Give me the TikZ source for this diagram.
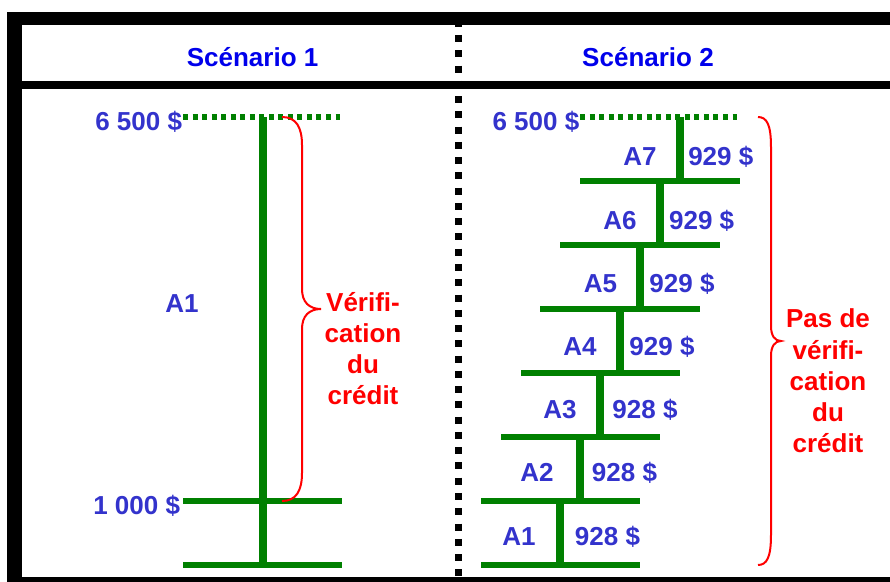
\documentclass[tikz,border=0pt]{standalone}
\usepackage{fontspec}
\setmainfont{Liberation Sans}
\definecolor{hdrblue}{RGB}{0,0,235}
\definecolor{lblblue}{RGB}{51,51,204}
\definecolor{grn}{RGB}{0,128,0}
\definecolor{rd}{RGB}{255,0,0}
\begin{document}
\begin{tikzpicture}[x=0.75pt,y=-0.75pt,
  txt/.style={font=\fontsize{19.5}{23.4}\selectfont\bfseries, inner sep=0pt, outer sep=0pt},
  hdr/.style={txt, text=hdrblue, anchor=base},
  lbl/.style={txt, text=lblblue},
  note/.style={txt, text=rd, align=center, anchor=south},
  trunk/.style={draw=grn, line width=6pt},
  bar/.style={draw=grn, line width=4.3pt},
  dots/.style={draw=grn, line width=4pt, dash pattern=on 3.75pt off 3.4pt},
  brace/.style={draw=rd, line width=1.5pt},
  divider/.style={draw=black, line width=5.25pt, dash pattern=on 5.25pt off 6.2pt}]

\useasboundingbox (0,0) rectangle (890,582);
\fill[white] (0,0) rectangle (890,582);

% divider
\draw[divider] (458,19.7) -- (458,577);
% frame
\fill[black] (7,11.7) rectangle (890,25);
\fill[black] (7,11.7) rectangle (22,582);
\fill[black] (22,81) rectangle (890,89);
\fill[black] (7,577) rectangle (890,582);

% headers
\node[hdr] (h1) at (252.6,66.5) {Scénario 1};
\node[hdr] (h2) at (648,66.5) {Scénario 2};

% ---------- Scenario 1 ----------
\coordinate (Ltop) at (262.5,117);
\coordinate (Lbot) at (262.5,565);
\draw[dots] (183,117) -- (340,117);
\draw[trunk] (Ltop) -- (Lbot);
\draw[bar] (183,501) -- (342,501);
\draw[bar] (183,565) -- (342,565);
\node[lbl, anchor=base east] (l6500) at (182,130) {6 500 \$};
\node[lbl, anchor=base east] (l1000) at (180,514) {1 000 \$};
\node[lbl, anchor=base] (la1) at (182,312) {A1};
\draw[brace] (282,117) .. controls (296,117) and (302,127) .. (302,145)
  -- (302,289) .. controls (302,302) and (309,309) .. (321,309)
  .. controls (309,309) and (302,316) .. (302,329)
  -- (302,473) .. controls (302,491) and (296,501) .. (282,501);
\node[note] (n1) at (363,405) {Vérifi-\\cation\\du\\crédit};

% ---------- Scenario 2 ----------
\draw[dots] (580,117) -- (737,117);
\foreach \y/\xa/\xb in {565/481/640, 501/481/640, 437/501/660, 373/521/680, 309/540/700, 245/560/720, 181/580/740}
  \draw[bar] (\xa,\y) -- (\xb,\y);
\foreach \i in {1,...,7}{
  \pgfmathsetmacro\sx{560+20*(\i-1)}
  \pgfmathsetmacro\sya{565-64*\i}
  \pgfmathsetmacro\syb{565-64*(\i-1)}
  \draw[trunk] (\sx,\sya) -- (\sx,\syb);
}
\foreach \i/\xa/\xm/\amt in {1/519/607.5/928, 2/537/624.5/928, 3/560/645/928, 4/580/662/929, 5/600.5/682/929, 6/620/701.7/929, 7/640/720.8/929}{
  \pgfmathsetmacro\yb{545-63.2*(\i-1)}
  \node[lbl, anchor=base] (a\i) at (\xa,\yb) {A\i};
  \node[lbl, anchor=base] (m\i) at (\xm,\yb) {\amt{} \$};
}
\node[lbl, anchor=base east] (r6500) at (579.3,130) {6 500 \$};
\draw[brace] (758,117) .. controls (767,117) and (771,125) .. (771,147)
  -- (771,326) .. controls (771,336) and (775,341) .. (781,341)
  .. controls (775,341) and (771,346) .. (771,356)
  -- (771,535) .. controls (771,557) and (767,565) .. (758,565);
\node[note] (n2) at (828,453) {Pas de\\vérifi-\\cation\\du\\crédit};
\end{tikzpicture}
\end{document}
